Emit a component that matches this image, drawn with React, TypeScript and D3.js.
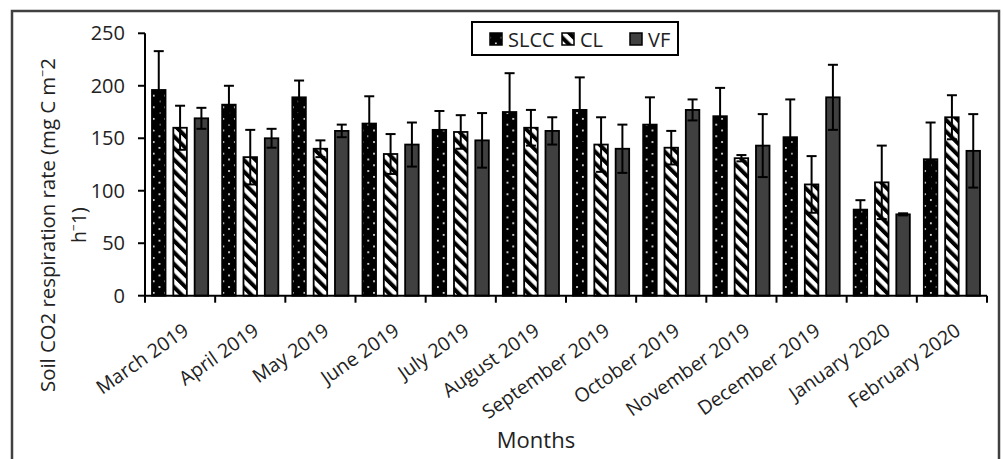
import React from "react";
import * as d3 from "d3";

const months = [
  "March 2019", "April 2019", "May 2019", "June 2019", "July 2019", "August 2019",
  "September 2019", "October 2019", "November 2019", "December 2019", "January 2020", "February 2020",
];
const seriesNames = ["SLCC", "CL", "VF"];
const slccValues = [196, 182, 189, 164, 158, 175, 177, 163, 171, 151, 82, 130];
const slccErrors = [37, 18, 16, 26, 18, 37, 31, 26, 27, 36, 9, 35];
const clValues = [160, 132, 140, 135, 156, 160, 144, 141, 131, 106, 108, 170];
const clErrors = [21, 26, 8, 19, 16, 17, 26, 16, 3, 27, 35, 21];
const vfValues = [169, 150, 157, 144, 148, 157, 140, 177, 143, 189, 77.5, 138];
const vfErrors = [10, 9, 6, 21, 26, 13, 23, 10, 30, 31, 1, 35];
const yTicks = [0, 50, 100, 150, 200, 250];

const FONT = "'Open Sans', 'Noto Sans', sans-serif";
const fills: Record<string, string> = { SLCC: "url(#dots)", CL: "url(#hatch)", VF: "#404040" };

export default function App() {
  const W = 1003, H = 459;
  const x0 = d3.scaleBand<string>().domain(months).range([145, 987]).padding(0);
  const step = x0.step();
  const x1 = d3.scaleBand<string>().domain(seriesNames).range([7, step - 7]).paddingInner(0.366).paddingOuter(0);
  const y = d3.scaleLinear().domain([0, 250]).range([295.7, 33.3]);

  const valueTable = seriesNames.map((s, si) => ({
    name: s,
    values: [slccValues, clValues, vfValues][si],
    errors: [slccErrors, clErrors, vfErrors][si],
  }));

  const bw = x1.bandwidth();
  const capW = 10;
  const angle = 35;

  return (
    <svg width={W} height={H} style={{ position: "absolute", left: 0, top: 0, background: "#fff" }} fontFamily={FONT}>
      <defs>
        <pattern id="dots" patternUnits="userSpaceOnUse" width={11.6} height={11.6}>
          <rect width={11.6} height={11.6} fill="#000" />
          <rect x={2} y={2} width={1.7} height={1.7} fill="#fff" />
          <rect x={7.8} y={7.8} width={1.7} height={1.7} fill="#fff" />
        </pattern>
        <pattern id="hatch" patternUnits="userSpaceOnUse" width={8.2} height={8.2} patternTransform="rotate(-45)">
          <rect width={8.2} height={8.2} fill="#fff" />
          <rect x={0} y={0} width={4} height={8.2} fill="#000" />
        </pattern>
      </defs>
      <rect x={0} y={0} width={W} height={H} fill="#fff" />
      <rect x={12} y={11} width={987} height={470} fill="none" stroke="#404040" strokeWidth={2.5} />

      {/* bars */}
      {valueTable.map((s) => (
        <g key={s.name}>
          {months.map((m, i) => {
            const xb = (x0(m) as number) + (x1(s.name) as number);
            const v = s.values[i];
            return (
              <rect key={m} x={xb} y={y(v)} width={bw} height={y(0) - y(v)} fill={fills[s.name]} stroke="#000" strokeWidth={1.8} />
            );
          })}
        </g>
      ))}
      {/* error bars */}
      {valueTable.map((s) => (
        <g key={s.name + "e"} stroke="#000" strokeWidth={2}>
          {months.map((m, i) => {
            const cx = (x0(m) as number) + (x1(s.name) as number) + bw / 2;
            const v = s.values[i];
            const e = s.errors[i];
            return (
              <g key={m}>
                <line x1={cx} x2={cx} y1={y(v + e)} y2={y(v - e)} />
                <line x1={cx - capW / 2} x2={cx + capW / 2} y1={y(v + e)} y2={y(v + e)} />
                <line x1={cx - capW / 2} x2={cx + capW / 2} y1={y(v - e)} y2={y(v - e)} />
              </g>
            );
          })}
        </g>
      ))}

      {/* y axis */}
      <line x1={145} x2={145} y1={y(250)} y2={y(0)} stroke="#000" strokeWidth={2} />
      {yTicks.map((t) => (
        <g key={t}>
          <line x1={138} x2={145} y1={y(t)} y2={y(t)} stroke="#000" strokeWidth={2} />
          <text x={125} y={y(t)} dy="0.35em" textAnchor="end" fontSize={20} fill="#222">{t}</text>
        </g>
      ))}
      {/* x axis */}
      <line x1={145} x2={987} y1={y(0)} y2={y(0)} stroke="#000" strokeWidth={2} />
      {[...months.map((m) => x0(m) as number), 987].map((tx, i) => (
        <line key={i} x1={tx} x2={tx} y1={y(0)} y2={y(0) + 7} stroke="#000" strokeWidth={2} />
      ))}
      {months.map((m) => {
        const cx = (x0(m) as number) + step / 2;
        return (
          <text key={m} transform={`translate(${cx + 10},${333.5}) rotate(${-angle})`} textAnchor="end" fontSize={19.5} fill="#222">
            {m}
          </text>
        );
      })}

      {/* axis titles */}
      <text x={536} y={448} textAnchor="middle" fontSize={22} fill="#222">Months</text>
      <g transform="translate(0,225) rotate(-90)" fontSize={19.5} fill="#222">
        <text x={-167} y={55} textLength={334} lengthAdjust="spacingAndGlyphs">
          Soil CO2 respiration rate (mg C m<tspan fontSize={12} dy={-8}>−</tspan><tspan dy={8}>2</tspan>
        </text>
        <text x={0} y={86} textAnchor="middle">
          h<tspan fontSize={12} dy={-8}>−</tspan><tspan dy={8}>1)</tspan>
        </text>
      </g>

      {/* legend */}
      <rect x={472} y={22} width={206} height={33} fill="#fff" stroke="#000" strokeWidth={2} />
      {seriesNames.map((s, i) => {
        const sx = [490, 562, 630][i];
        return (
          <g key={s}>
            <rect x={sx} y={33} width={12} height={12} fill={fills[s]} stroke="#000" strokeWidth={1.5} />
            <text x={sx + 18} y={46.5} fontSize={20} fill="#222">{s}</text>
          </g>
        );
      })}
    </svg>
  );
}
